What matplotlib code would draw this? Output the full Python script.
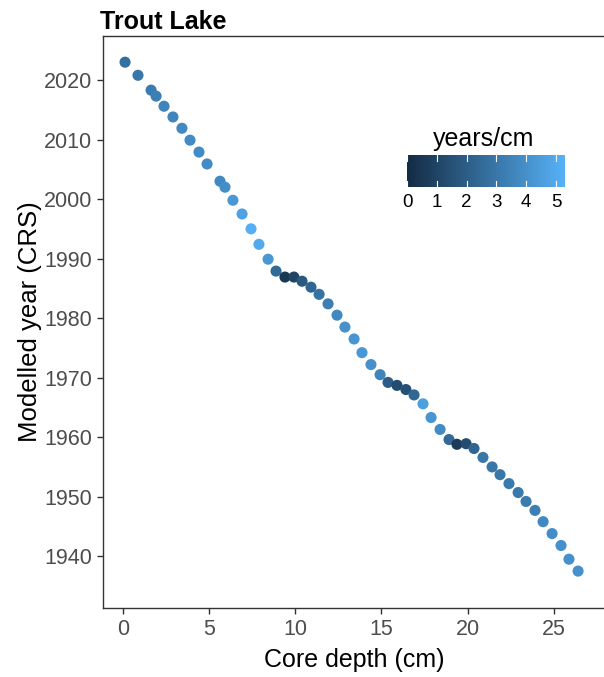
import matplotlib
matplotlib.use("Agg")
import matplotlib.pyplot as plt
from matplotlib.colors import LinearSegmentedColormap, Normalize
from matplotlib.cm import ScalarMappable

plt.rcParams["font.family"] = ["Liberation Sans", "DejaVu Sans"]

# Core depth (cm), modelled CRS year and sedimentation rate (years/cm)
depth = [0.12, 0.87, 1.63, 1.92, 2.38, 2.90, 3.42, 3.89, 4.41, 4.88,
         5.63, 5.92, 6.38, 6.91, 7.43, 7.89, 8.42, 8.88, 9.40, 9.92,
         10.39, 10.91, 11.38, 11.90, 12.42, 12.88, 13.41, 13.87, 14.39, 14.92,
         15.38, 15.90, 16.42, 16.89, 17.41, 17.88, 18.40, 18.92, 19.38, 19.91,
         20.37, 20.89, 21.42, 21.88, 22.40, 22.93, 23.39, 23.91, 24.38, 24.90,
         25.42, 25.88, 26.41]
year = [2023.0, 2020.8, 2018.3, 2017.3, 2015.6, 2013.8, 2011.9, 2009.9, 2007.9, 2005.9,
        2003.0, 2002.0, 1999.8, 1997.5, 1995.0, 1992.4, 1989.9, 1987.9, 1986.9, 1986.9,
        1986.2, 1985.2, 1984.0, 1982.4, 1980.5, 1978.5, 1976.5, 1974.2, 1972.2, 1970.5,
        1969.2, 1968.7, 1968.0, 1967.1, 1965.6, 1963.3, 1961.3, 1959.6, 1958.8, 1958.9,
        1958.1, 1956.6, 1955.0, 1953.7, 1952.2, 1950.7, 1949.2, 1947.7, 1945.8, 1943.8,
        1941.8, 1939.5, 1937.5]
rate = [2.7, 3.0, 3.2, 3.3, 3.5, 3.6, 3.7, 3.8, 3.8, 3.8,
        3.7, 3.9, 4.3, 4.7, 5.2, 5.0, 4.3, 2.5, 0.5, 1.0,
        1.8, 2.3, 2.8, 3.3, 3.7, 4.0, 4.2, 4.3, 4.0, 3.5,
        2.0, 1.3, 1.5, 2.4, 4.6, 4.2, 3.8, 2.5, 0.6, 1.3,
        2.3, 3.0, 3.0, 3.0, 3.1, 3.1, 3.2, 3.3, 3.7, 3.9,
        4.0, 4.0, 4.0]

x_ticks = [0, 5, 10, 15, 20, 25]
y_ticks = [1940, 1950, 1960, 1970, 1980, 1990, 2000, 2010, 2020]
cbar_ticks = [0, 1, 2, 3, 4, 5]

W, H = 604, 677
cmap = LinearSegmentedColormap.from_list("gg", ["#132B43", "#56B1F7"])
norm = Normalize(vmin=0, vmax=5.3)

fig = plt.figure(figsize=(W / 100, H / 100), dpi=100)
ax = fig.add_axes([103 / W, 1 - 608 / H, 503 / W, 572 / H])

ax.scatter(depth, year, c=rate, cmap=cmap, norm=norm, s=64, linewidths=0, zorder=3)

ax.set_xlim(-1.16, 28.03)
ax.set_ylim(1931.3, 2027.4)
ax.set_xticks(x_ticks)
ax.set_yticks(y_ticks)
ax.tick_params(colors="#333333", labelcolor="#4d4d4d", labelsize=15.5, length=4,
               width=1, pad=4)
for s in ax.spines.values():
    s.set_color("#333333")
    s.set_linewidth(1)
ax.set_xlabel("Core depth (cm)", fontsize=18, labelpad=6)
ax.set_ylabel("Modelled year (CRS)", fontsize=18.5, labelpad=1)
fig.text(100 / W, 1 - 29 / H, "Trout Lake", fontsize=18, fontweight="bold",
         ha="left", va="baseline")

# colour bar legend inside the panel
cax = fig.add_axes([407 / W, 1 - 187 / H, 158 / W, 32 / H])
cb = fig.colorbar(ScalarMappable(norm=norm, cmap=cmap), cax=cax, orientation="horizontal")
cb.outline.set_visible(False)
cb.set_ticks(cbar_ticks)
cax.tick_params(axis="x", length=0, labelsize=13.5, labelcolor="black", pad=5)
for t in cbar_ticks:
    cax.plot([t, t], [0, 0.2], color="white", lw=0.8)
    cax.plot([t, t], [0.8, 1.0], color="white", lw=0.8)
fig.text(484 / W, 1 - 139 / H, "years/cm", fontsize=18, ha="center", va="center")

fig.savefig("out.png", dpi=100)
